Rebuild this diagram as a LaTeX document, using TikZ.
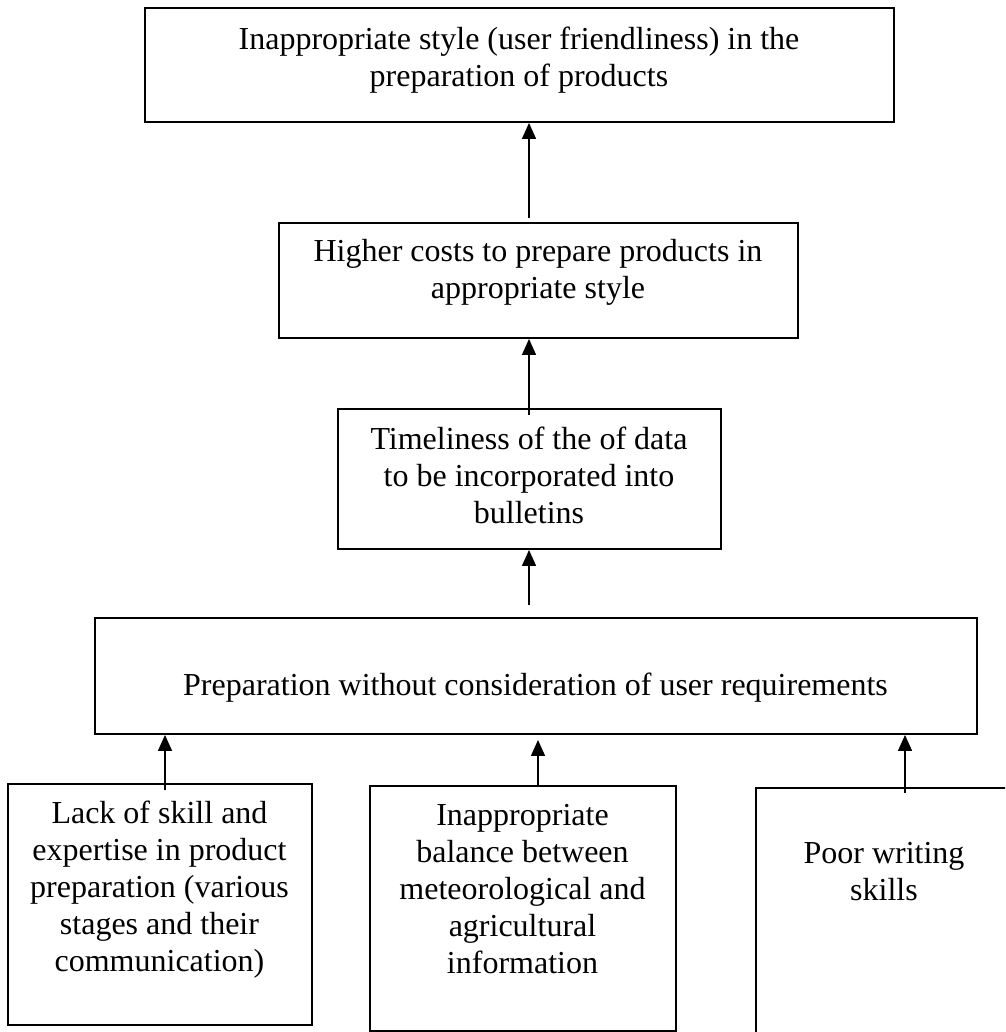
\documentclass[tikz,border=0pt]{standalone}
\usepackage{fontspec}
\setmainfont{Liberation Serif}
\usetikzlibrary{arrows.meta}
\begin{document}
\begin{tikzpicture}[x=1pt,y=-1pt,
  box/.style={draw=black,line width=1.9pt,rectangle,inner sep=0pt},
  txt/.style={align=center,inner sep=0pt,font=\fontsize{32}{37}\selectfont},
  arr/.style={line width=1.4pt,-{Triangle[length=16pt,width=14pt]}}]
\useasboundingbox (0,0) rectangle (1005,1032);
\begin{scope}
\clip (0,0) rectangle (1005,1032);
% boxes
\node[box,minimum width=749pt,minimum height=114pt] (b1) at (519.5,65) {};
\node[box,minimum width=519pt,minimum height=115pt] (b2) at (538.5,280.5) {};
\node[box,minimum width=383pt,minimum height=140pt] (b3) at (529.5,479) {};
\node[box,minimum width=882pt,minimum height=116pt] (b4) at (536,676) {};
\node[box,minimum width=304pt,minimum height=241pt] (b5) at (160,904.5) {};
\node[box,minimum width=306pt,minimum height=245pt] (b6) at (523,908.5) {};
\node[box,minimum width=270pt,minimum height=270pt] (b7) at (891,923) {};
% texts
\node[txt] (t1) at (519,60) {Inappropriate style (user friendliness) in the\\preparation of products};
\node[txt] (t2) at (538,272) {Higher costs to prepare products in\\appropriate style};
\node[txt] (t3) at (529,475) {Timeliness of the of data\\to be incorporated into\\bulletins};
\node[txt] (t4) at (535.5,688) {Preparation without consideration of user requirements};
\node[txt] (t5) at (159.5,890) {Lack of skill and\\expertise in product\\preparation (various\\stages and their\\communication)};
\node[txt] (t6) at (522.5,889) {Inappropriate\\balance between\\meteorological and\\agricultural\\information};
\node[txt] (t7) at (884,872) {Poor writing\\skills};
% arrow start points
\coordinate (s1) at (529,218);
\coordinate (s2) at (529,415);
\coordinate (s3) at (529,605);
\coordinate (s4) at (165,790);
\coordinate (s5) at (538,786);
\coordinate (s6) at (905,793);
\draw[arr] (s1) -- (s1 |- b1.south);
\draw[arr] (s2) -- (s2 |- b2.south);
\draw[arr] (s3) -- (s3 |- b3.south);
\draw[arr] (s4) -- (s4 |- b4.south);
\draw[arr] (s5) -- ([yshift=-5pt]s5 |- b4.south);
\draw[arr] (s6) -- (s6 |- b4.south);
\end{scope}
\end{tikzpicture}
\end{document}
